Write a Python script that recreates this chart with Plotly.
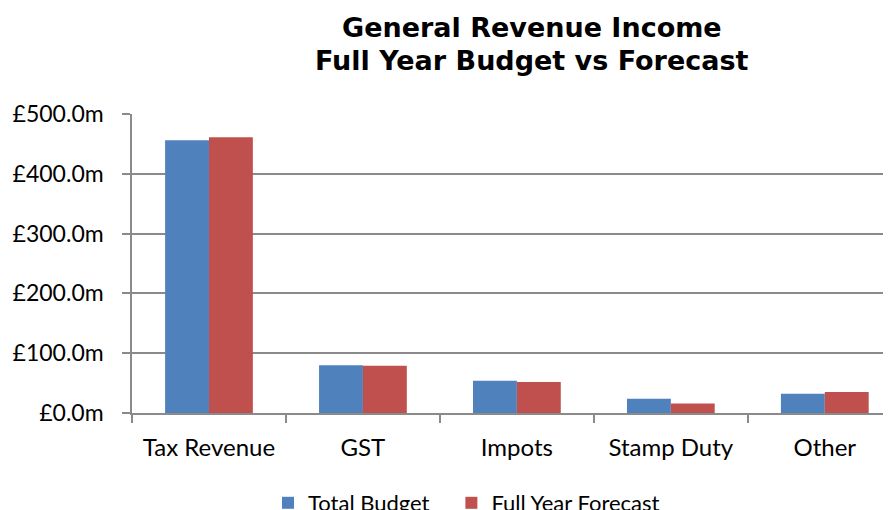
import plotly.graph_objects as go

categories = ["Tax Revenue", "GST", "Impots", "Stamp Duty", "Other"]
series_names = ["Total Budget", "Full Year Forecast"]
total_budget = [456, 80, 54, 24, 32]
full_year_forecast = [461, 79, 52, 16, 35]
y_tick_vals = [0, 100, 200, 300, 400, 500]
y_tick_text = ["£0.0m", "£100.0m", "£200.0m", "£300.0m", "£400.0m", "£500.0m"]

# page has an 8px body margin, so the figure is sized to fit the window
W, H = 883, 502
ml, mr, mt, mb = 124, 0, 106, 97
pw, ph = W - ml - mr, H - mt - mb

fig = go.Figure()
fig.add_trace(go.Bar(name=series_names[0] + "\u00a0\u00a0\u00a0", x=categories, y=total_budget,
                     marker=dict(color="#4F81BD", line=dict(width=0))))
fig.add_trace(go.Bar(name=series_names[1], x=categories, y=full_year_forecast,
                     marker=dict(color="#C0504D", line=dict(width=0))))

grid = "#8a8a8a"
fig.update_layout(
    width=W, height=H,
    margin=dict(l=ml, r=mr, t=mt, b=mb, pad=0, autoexpand=False),
    paper_bgcolor="white", plot_bgcolor="white",
    barmode="group", bargap=0.43, bargroupgap=0,
    font=dict(family="Lato, Open Sans, sans-serif", size=23, color="black"),
    showlegend=True,
    legend=dict(orientation="h", x=(260 - ml) / pw, xanchor="left",
                y=-(495 - (H - mb)) / ph, yanchor="middle", font=dict(size=22),
                bgcolor="rgba(0,0,0,0)"),
    xaxis=dict(range=[-0.5, 4.43], showgrid=False, showline=True, linecolor=grid,
               linewidth=1.5, ticks="outside", tickson="boundaries", ticklen=8,
               tickcolor=grid, tickwidth=1.5, ticklabelstandoff=12, tickangle=0,
               tickfont=dict(size=24)),
    yaxis=dict(range=[0, 500], tickvals=y_tick_vals, ticktext=y_tick_text,
               showgrid=True, gridcolor=grid, gridwidth=1.5, showline=True,
               linecolor=grid, linewidth=1.5, ticks="outside", ticklen=8,
               tickcolor=grid, tickwidth=1.5, zeroline=False,
               ticklabelstandoff=14, tickfont=dict(size=23)),
)

title_font = dict(family="DejaVu Sans, sans-serif", size=27, color="black")
fig.add_annotation(text="<b>General Revenue Income</b>", xref="paper", yref="paper",
                   x=(524 - ml) / pw, y=1 + (mt - 20) / ph,
                   xanchor="center", yanchor="middle", showarrow=False, font=title_font)
fig.add_annotation(text="<b>Full Year Budget vs Forecast</b>", xref="paper", yref="paper",
                   x=(524 - ml) / pw, y=1 + (mt - 52) / ph,
                   xanchor="center", yanchor="middle", showarrow=False, font=title_font)

fig.write_html("out.html")
